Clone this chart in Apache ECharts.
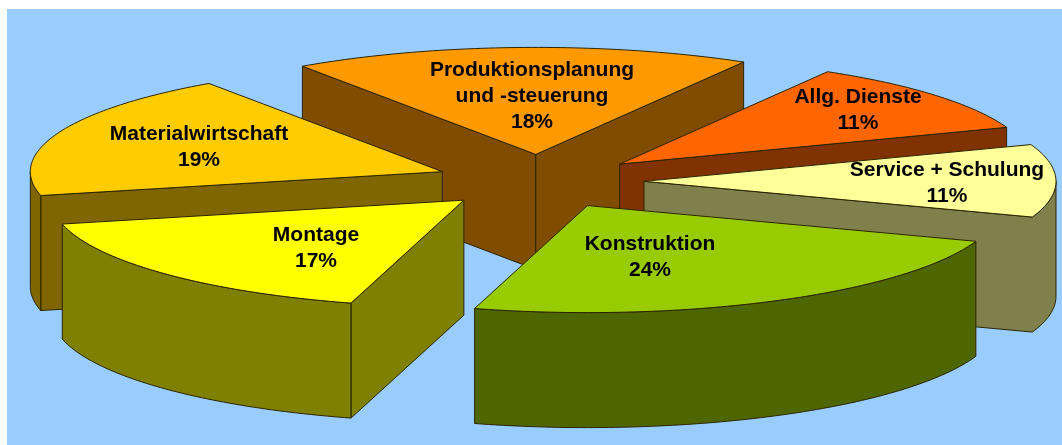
<!DOCTYPE html>
<html>
<head>
<meta charset="utf-8">
<title>Kostenverteilung</title>
<style>
html,body{margin:0;padding:0;background:#fff;}
#chart{width:1062px;height:445px;}
</style>
<script src="https://cdn.jsdelivr.net/npm/echarts@6/dist/echarts.min.js"></script>
</head>
<body>
<div id="chart"></div>
<script>
// Werte, im Uhrzeigersinn ab dem Startwinkel
var names = ['Produktionsplanung\nund -steuerung', 'Allg. Dienste', 'Service + Schulung', 'Konstruktion', 'Montage', 'Materialwirtschaft'];
var values = [18, 11, 11, 24, 17, 19];

// Farben
var topColors = ['#FF9900', '#FF6600', '#FFFF99', '#99CC00', '#FFFF00', '#FFCC00'];
var sideColors = ['#804C00', '#803300', '#80804D', '#4D6600', '#808000', '#806600'];

// Zeichenreihenfolge (hinten nach vorne)
var drawOrder = [0, 1, 5, 2, 4, 3];

// Mitte der Beschriftung je Segment
var labelX = [532, 858, 947, 650, 316, 199];
var labelY = [96, 110, 183, 257, 248, 147];

// Torte
var centerX = 539.6, centerY = 181.5;
var radiusX = 412, radiusY = 107;
var depth = 115;
var explode = 0.2534;
var startAngle = 124.5;

var total = values.reduce(function(a, b){ return a + b; }, 0);

function project(cx, cy, deg){
	var r = deg * Math.PI / 180;
	return [cx + radiusX * Math.cos(r), cy - radiusY * Math.sin(r)];
}

function sideFace(run){
	var pts = run.slice();
	for(var i = run.length - 1; i >= 0; i--){
		pts.push([run[i][0], run[i][1] + depth]);
	}
	return pts;
}

function renderSlice(params, api){
	var idx = api.value(1);
	var before = 0;
	for(var i = 0; i < idx; i++){
		before += values[i];
	}
	var a0 = startAngle - before / total * 360;
	var a1 = a0 - api.value(0) / total * 360;
	var mid = (a0 + a1) / 2 * Math.PI / 180;
	var cx = centerX + explode * radiusX * Math.cos(mid);
	var cy = centerY - explode * radiusY * Math.sin(mid);

	// Umriss im Uhrzeigersinn: Spitze, Bogen, zurueck zur Spitze
	var apex = [cx, cy];
	var outline = [apex];
	var steps = Math.ceil(a0 - a1);
	for(var s = 0; s <= steps; s++){
		outline.push(project(cx, cy, a0 + (a1 - a0) * s / steps));
	}
	outline.push(apex);

	// sichtbar sind nur die Kanten, die nach links laufen (Unterkante der Flaeche)
	var children = [];
	var edgeColor = '#2b2400';
	var run = null;
	function flush(){
		if(run){
			children.push({
				type: 'polygon',
				shape: {points: sideFace(run)},
				style: {fill: sideColors[idx], stroke: edgeColor, lineWidth: 1},
				z2: params.dataIndex * 3
			});
		}
		run = null;
	}
	var last = outline.length - 2;
	for(var e = 0; e <= last; e++){
		var p = outline[e], q = outline[e + 1];
		var isSpoke = e === 0 || e === last;
		if(q[0] < p[0]){
			if(!run){
				run = [p];
			}
			run.push(q);
			if(isSpoke){
				flush();
			}
		}else{
			flush();
		}
	}
	flush();

	children.push({
		type: 'polygon',
		shape: {points: outline.slice(0, -1)},
		style: {fill: topColors[idx], stroke: edgeColor, lineWidth: 1},
		z2: params.dataIndex * 3 + 1
	});
	children.push({
		type: 'text',
		style: {
			x: labelX[idx],
			y: labelY[idx],
			text: names[idx] + '\n' + values[idx] + '%',
			fill: '#000',
			align: 'center',
			verticalAlign: 'middle',
			fontFamily: '"Liberation Sans", Arial, sans-serif',
			fontWeight: 'bold',
			fontSize: 21,
			lineHeight: 26
		},
		z2: 100
	});
	return {type: 'group', children: children};
}

var chart = echarts.init(document.getElementById('chart'), null, {renderer: 'canvas'});
chart.setOption({
	animation: false,
	backgroundColor: '#fff',
	graphic: [{
		type: 'rect',
		z: -10,
		silent: true,
		shape: {x: 7, y: 9, width: 1055, height: 436},
		style: {fill: '#99CCFF'}
	}],
	series: [{
		type: 'custom',
		silent: true,
		coordinateSystem: 'none',
		renderItem: renderSlice,
		data: drawOrder.map(function(i){ return [values[i], i]; })
	}]
});
</script>
</body>
</html>
